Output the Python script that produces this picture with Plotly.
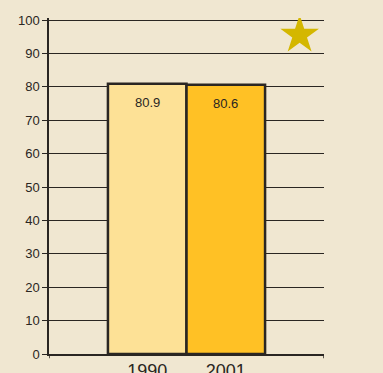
import plotly.graph_objects as go

# Data
years = ["1990", "2001"]
values = [80.9, 80.6]
bar_colors = ["#FDE196", "#FFC125"]
y_ticks = [0, 10, 20, 30, 40, 50, 60, 70, 80, 90, 100]

x_pos = [1.25, 2.25]
font_name = "Liberation Sans Narrow, Arial Narrow, sans-serif"
ink = "#2a2622"

fig = go.Figure()
fig.add_trace(go.Bar(
    x=x_pos, y=values, width=1.0,
    marker=dict(color=bar_colors, line=dict(color=ink, width=2.5)),
    hoverinfo="skip",
))

# Value labels near the top of each bar
for x, v in zip(x_pos, values):
    fig.add_annotation(x=x, y=v, text=f"{v}", showarrow=False,
                       yanchor="top", yshift=-9,
                       font=dict(family=font_name, size=13, color=ink))

# Star marker in the upper right
fig.add_trace(go.Scatter(
    x=[3.19], y=[95.5], mode="markers",
    marker=dict(symbol="star", size=29, color="#D4B700", line=dict(width=0)),
    hoverinfo="skip",
))

# Tick marks at the ends of the x axis
for xe in [0, 3.5]:
    fig.add_shape(type="line", xref="x", yref="paper", x0=xe, x1=xe, y0=0, y1=-0.013,
                  line=dict(color=ink, width=1.5))

fig.update_layout(
    width=383, height=373,
    margin=dict(l=49, r=59, t=18, b=19),
    paper_bgcolor="#F0E7D1", plot_bgcolor="#F0E7D1",
    showlegend=False,
    font=dict(family=font_name, color=ink),
)
fig.update_xaxes(
    range=[0, 3.5], tickvals=x_pos, ticktext=years, automargin=False,
    showgrid=False, zeroline=False, showline=True, linecolor=ink, linewidth=1.5,
    ticks="", ticklabelstandoff=0,
    tickfont=dict(size=18, family="Liberation Sans, Arial, sans-serif", color=ink),
)
fig.update_yaxes(
    range=[0, 100.6], tickvals=y_ticks, showgrid=True, gridcolor=ink, gridwidth=1,
    zeroline=False, showline=True, linecolor=ink, linewidth=1.5, automargin=False,
    ticks="outside", ticklen=5, tickcolor=ink, tickwidth=1,
    tickfont=dict(size=13, color=ink),
)

fig.write_html("out.html")
